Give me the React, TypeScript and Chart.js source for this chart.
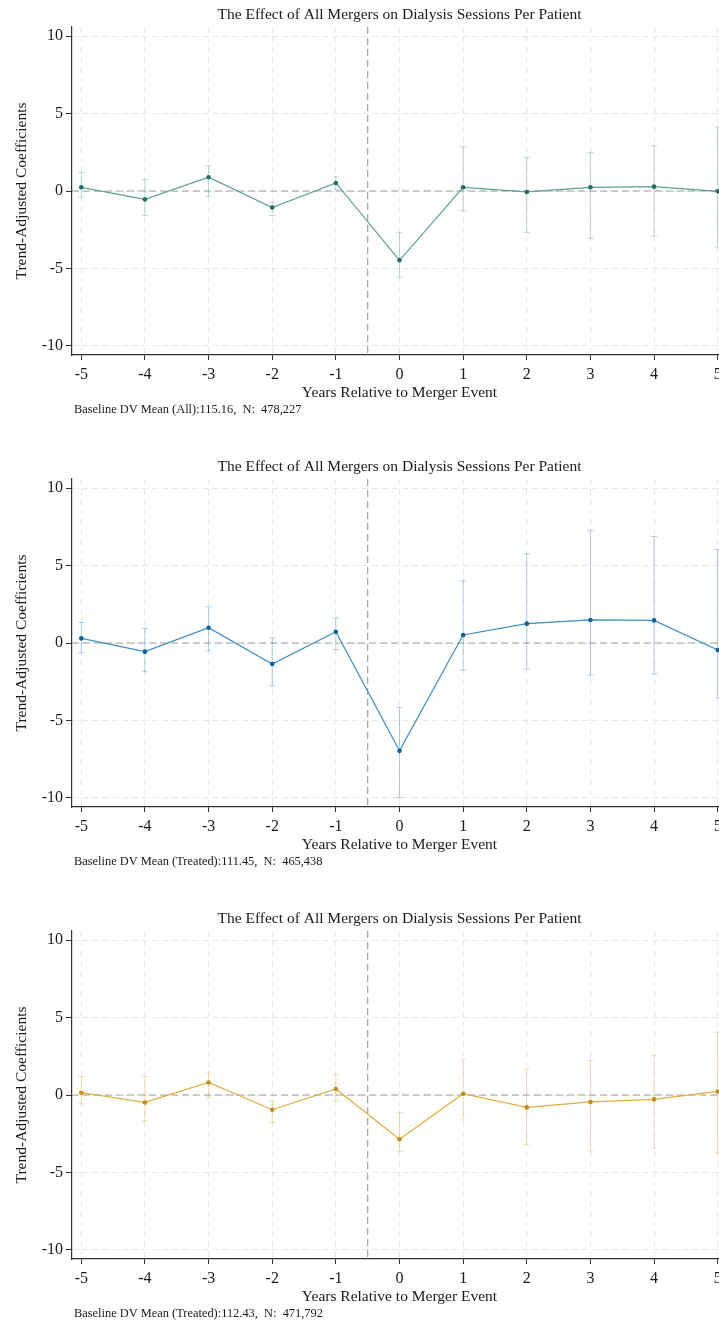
import React, { useEffect, useRef } from "react";
import { Chart, registerables } from "chart.js";
Chart.register(...registerables);

const YEARS = [-5, -4, -3, -2, -1, 0, 1, 2, 3, 4, 5];
const X_TICKS = [-5, -4, -3, -2, -1, 0, 1, 2, 3, 4, 5];
const Y_TICKS = [-10, -5, 0, 5, 10];
const TITLE = "The Effect of All Mergers on Dialysis Sessions Per Patient";
const X_TITLE = "Years Relative to Merger Event";
const Y_TITLE = "Trend-Adjusted Coefficients";
const MERGER_LINE = -0.5;

const ALL_COEF = [0.24, -0.54, 0.89, -1.07, 0.52, -4.48, 0.24, -0.06, 0.24, 0.28, -0.02];
const ALL_LO = [-0.39, -1.59, -0.35, -1.59, 0.1, -5.56, -1.27, -2.67, -3.04, -2.91, -3.62];
const ALL_HI = [1.19, 0.74, 1.64, -0.75, 0.95, -2.69, 2.87, 2.18, 2.48, 2.93, 4.14];
const ALL_NOTE = "Baseline DV Mean (All):115.16,  N:  478,227";

const TR1_COEF = [0.3, -0.56, 0.99, -1.36, 0.73, -6.97, 0.52, 1.25, 1.49, 1.46, -0.45];
const TR1_LO = [-0.63, -1.86, -0.5, -2.76, -0.43, -10.0, -1.75, -1.68, -2.07, -2.0, -3.56];
const TR1_HI = [1.33, 0.94, 2.35, 0.34, 1.62, -4.16, 4.01, 5.76, 7.26, 6.88, 6.04];
const TR1_NOTE = "Baseline DV Mean (Treated):111.45,  N:  465,438";

const TR2_COEF = [0.15, -0.48, 0.81, -0.95, 0.39, -2.86, 0.08, -0.8, -0.45, -0.28, 0.23];
const TR2_LO = [-0.56, -1.68, -0.17, -1.79, -0.37, -3.66, -1.61, -3.19, -3.61, -3.45, -3.74];
const TR2_HI = [1.2, 1.2, 1.48, -0.37, 1.35, -1.12, 2.32, 1.68, 2.23, 2.54, 4.06];
const TR2_NOTE = "Baseline DV Mean (Treated):112.43,  N:  471,792";

const FONT = "'Liberation Serif', 'Times New Roman', serif";

type PanelProps = {
  coef: number[];
  lo: number[];
  hi: number[];
  note: string;
  line: string;
  marker: string;
  bar: string;
};

function Panel({ coef, lo, hi, note, line, marker, bar }: PanelProps) {
  const ref = useRef<HTMLCanvasElement | null>(null);
  useEffect(() => {
    if (!ref.current) return;
    const decor = {
      id: "decor",
      beforeDatasetsDraw(chart: any) {
        const { ctx, chartArea: a, scales } = chart;
        const xs = scales.x;
        const ys = scales.y;
        ctx.save();
        ctx.strokeStyle = "#a0a0a0";
        ctx.lineWidth = 1.2;
        ctx.setLineDash([7, 4]);
        const y0 = ys.getPixelForValue(0);
        ctx.beginPath();
        ctx.moveTo(a.left, y0);
        ctx.lineTo(a.right, y0);
        ctx.stroke();
        const xv = xs.getPixelForValue(MERGER_LINE);
        ctx.beginPath();
        ctx.moveTo(xv, a.top);
        ctx.lineTo(xv, a.bottom);
        ctx.stroke();
        ctx.setLineDash([]);
        ctx.strokeStyle = bar;
        ctx.lineWidth = 1;
        YEARS.forEach((yr, i) => {
          const px = xs.getPixelForValue(yr);
          const pl = ys.getPixelForValue(lo[i]);
          const ph = ys.getPixelForValue(hi[i]);
          ctx.beginPath();
          ctx.moveTo(px, pl);
          ctx.lineTo(px, ph);
          ctx.moveTo(px - 3, pl);
          ctx.lineTo(px + 3, pl);
          ctx.moveTo(px - 3, ph);
          ctx.lineTo(px + 3, ph);
          ctx.stroke();
        });
        ctx.restore();
      },
      afterDraw(chart: any) {
        const { ctx, chartArea: a } = chart;
        ctx.save();
        ctx.fillStyle = "#1a1a1a";
        ctx.textAlign = "center";
        ctx.textBaseline = "middle";
        ctx.font = `15.5px ${FONT}`;
        ctx.fillText(TITLE, (a.left + a.right) / 2, a.top - 12.5);
        ctx.fillText(X_TITLE, (a.left + a.right) / 2, a.bottom + 38);
        ctx.save();
        ctx.translate(22, (a.top + a.bottom) / 2);
        ctx.rotate(-Math.PI / 2);
        ctx.fillText(Y_TITLE, 0, 0);
        ctx.restore();
        ctx.textAlign = "left";
        ctx.font = `12.4px ${FONT}`;
        ctx.fillText(note, 74, a.bottom + 55);
        ctx.restore();
      },
    };
    const chart = new Chart(ref.current, {
      type: "line",
      data: {
        datasets: [
          {
            data: YEARS.map((x, i) => ({ x, y: coef[i] })),
            borderColor: line,
            borderWidth: 1.2,
            pointRadius: 2.3,
            pointBackgroundColor: marker,
            pointBorderWidth: 0,
            tension: 0,
          },
        ],
      },
      options: {
        animation: false,
        responsive: false,
        devicePixelRatio: 1,
        layout: { padding: { top: 27, right: 13, left: 0, bottom: 0 } },
        plugins: { legend: { display: false }, tooltip: { enabled: false }, title: { display: false } },
        scales: {
          x: {
            type: "linear",
            min: -5.146,
            max: 5.146,
            afterBuildTicks: (s: any) => {
              s.ticks = X_TICKS.map((v) => ({ value: v }));
            },
            afterFit: (s: any) => {
              s.height = 97;
            },
            ticks: {
              font: { family: FONT, size: 16 },
              color: "#1a1a1a",
              padding: 5,
              maxRotation: 0,
              autoSkip: false,
            },
            grid: {
              color: "#e8e8e8",
              lineWidth: 1,
              tickLength: 5,
              tickColor: "#333",
              tickBorderDash: [],
            },
            border: { color: "#333", width: 1.2, dash: [6, 4] },
          },
          y: {
            min: -10.6,
            max: 10.6,
            afterBuildTicks: (s: any) => {
              s.ticks = Y_TICKS.map((v) => ({ value: v }));
            },
            afterFit: (s: any) => {
              s.width = 72;
            },
            ticks: {
              font: { family: FONT, size: 16 },
              color: "#1a1a1a",
              padding: 3,
            },
            grid: {
              color: "#e8e8e8",
              lineWidth: 1,
              tickLength: 6,
              tickColor: "#333",
              tickBorderDash: [],
            },
            border: { color: "#333", width: 1.2, dash: [6, 4] },
          },
        },
      },
      plugins: [decor],
    });
    return () => chart.destroy();
  }, [coef, lo, hi, note, line, marker, bar]);
  return (
    <div style={{ height: 452, width: 740, position: "relative" }}>
      <canvas ref={ref} width={740} height={452} style={{ width: 740, height: 452, display: "block" }} />
    </div>
  );
}

export default function App() {
  return (
    <div
      style={{
        position: "absolute",
        left: 0,
        top: 0,
        width: 719,
        height: 1326,
        overflow: "hidden",
        background: "#fff",
      }}
    >
      <Panel coef={ALL_COEF} lo={ALL_LO} hi={ALL_HI} note={ALL_NOTE} line="#5f9f99" marker="#1f6f67" bar="rgba(95,159,153,0.4)" />
      <Panel coef={TR1_COEF} lo={TR1_LO} hi={TR1_HI} note={TR1_NOTE} line="#3b8dc2" marker="#0a63a0" bar="rgba(59,141,194,0.4)" />
      <Panel coef={TR2_COEF} lo={TR2_LO} hi={TR2_HI} note={TR2_NOTE} line="#e2ad3c" marker="#c58e12" bar="rgba(226,173,60,0.4)" />
    </div>
  );
}
